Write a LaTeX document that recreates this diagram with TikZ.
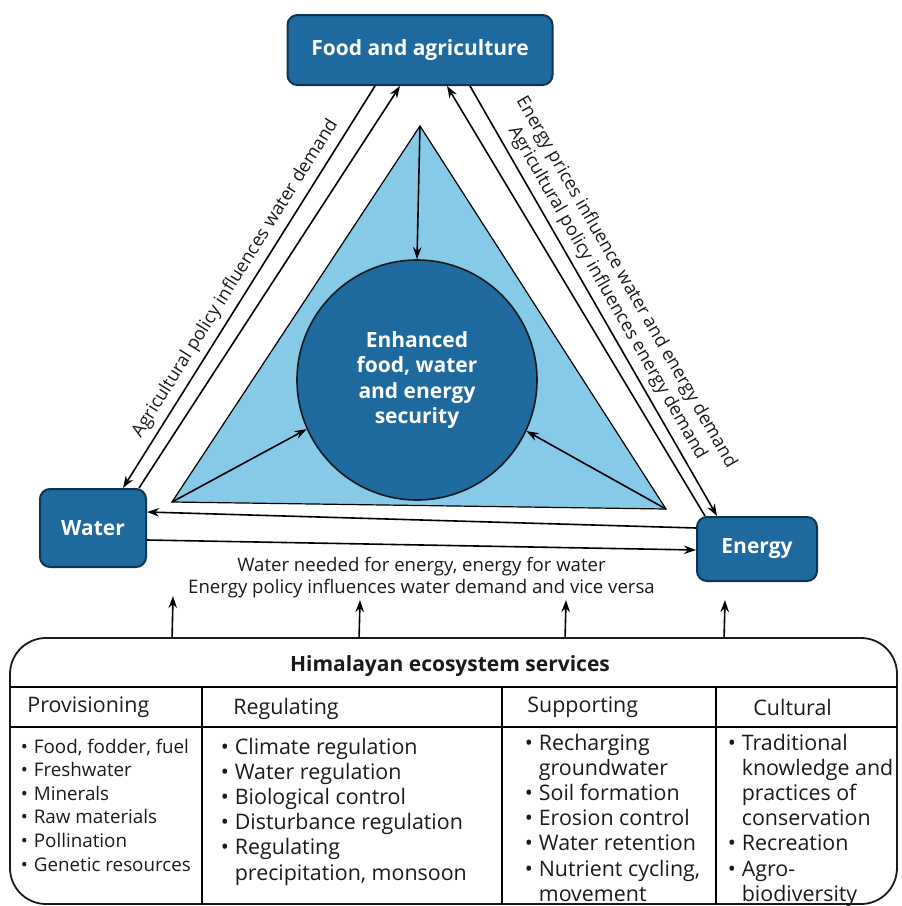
\documentclass[tikz,border=0pt]{standalone}
\usepackage{fontspec}
\setmainfont{Open Sans}
\usetikzlibrary{arrows.meta,calc,positioning}
\definecolor{bluedark}{HTML}{1E6A9E}
\definecolor{bluelight}{HTML}{86CAE8}
\definecolor{blueedge}{HTML}{0D3552}
\definecolor{inkmain}{HTML}{1A1A1A}
\tikzset{every node/.append style={font=\fontsize{10.7}{12.6}\selectfont,text=inkmain}}
\newcommand{\svc}[1]{\textbullet\hspace{3pt}#1}
\newcommand{\svcx}[1]{\hphantom{\textbullet\hspace{3pt}}#1}

\begin{document}
\begin{tikzpicture}[x=0.5pt,y=-0.5pt,>={Stealth[length=6pt,width=4.2pt]},line width=0.8pt,
  hubbox/.style={draw=blueedge,fill=bluedark,rounded corners=5pt,line width=1pt,inner sep=0pt,
    text=white,font=\bfseries\fontsize{10.5}{12}\selectfont},
  linklabel/.style={font=\fontsize{9.1}{10.8}\selectfont,inner sep=1pt},
  svclist/.style={anchor=north west,align=left,inner sep=0pt}]
  \useasboundingbox (0,0) rectangle (901,906);

  % the three sectors
  \node[hubbox,minimum width=132.5pt,minimum height=35pt] (food) at (420,50) {Food and agriculture};
  \node[hubbox,minimum width=53pt,minimum height=39pt] (water) at (93,528) {Water};
  \node[hubbox,minimum width=60pt,minimum height=32pt] (energy) at (757,549) {Energy};

  % nexus triangle
  \coordinate (apex) at (420,126);
  \coordinate (baseL) at (172,502);
  \coordinate (baseR) at (666,509);
  \draw[fill=bluelight,line width=0.6pt] (apex) -- (baseL) -- (baseR) -- cycle;
  \node[circle,draw=inkmain,fill=bluedark,minimum size=120pt,inner sep=0pt,align=center,
    text=white,font=\bfseries\fontsize{10.5}{12.6}\selectfont] (hub) at (417,380)
    {Enhanced\\food, water\\and energy\\security};
  \draw[->] (apex) -- (hub.north);
  \draw[->] (baseL) -- (hub.204);
  \draw[->] (baseR) -- (hub.335);

  % links between sectors
  \draw[->] ($(food.south)+(-45,0)$) -- ($(water.north)+(30,0)$)
    node[midway,sloped,above=2pt,linklabel] {Agricultural policy influences water demand};
  \draw[->] ($(water.north)+(46,0)$) -- ($(food.south)+(-20,0)$);
  \draw[->] ($(food.south)+(50,0)$) -- ($(energy.north)+(-40,0)$)
    node[midway,sloped,above=2pt,linklabel,align=center]
    {Energy prices influence water and energy demand\\Agricultural policy influences energy demand};
  \draw[->] ($(energy.north)+(-52,0)$) -- ($(food.south)+(27,0)$);
  \draw[->] ($(energy.west)+(0,-21)$) -- ($(water.east)+(0,-16)$);
  \draw[->] ($(water.east)+(0,12)$) -- ($(energy.west)+(0,1)$)
    node[midway,below=4.5pt,linklabel,align=center,font=\fontsize{9.3}{11}\selectfont]
    {Water needed for energy, energy for water\\Energy policy influences water demand and vice versa};

  % ecosystem services panel
  \node[draw=inkmain,rounded corners=18pt,minimum width=443.5pt,minimum height=133pt,
    inner sep=0pt,line width=0.9pt] (eco) at (453.5,771) {};
  \node[font=\bfseries\fontsize{10.5}{12}\selectfont] (ecoTitle) at (450,666) {Himalayan ecosystem services};
  \draw (10,687) -- (897,687);
  \draw (10,727) -- (897,727);
  \foreach \xcol in {202,502,716}
    \draw (\xcol,687) -- (\xcol,904);

  \node[anchor=west] (provHead) at (20,707) {Provisioning};
  \node[anchor=west] (regHead) at (226,709) {Regulating};
  \node[anchor=west] (supHead) at (520,707) {Supporting};
  \node[anchor=west] (culHead) at (746,707) {Cultural};

  \node[svclist,font=\fontsize{9.4}{11.8}\selectfont] (provList) at (20,738)
    {\svc{Food, fodder, fuel}\\\svc{Freshwater}\\\svc{Minerals}\\
    \svc{Raw materials}\\\svc{Pollination}\\\svc{Genetic resources}};
  \node[svclist] (regList) at (220,737) {\svc{Climate regulation}\\\svc{Water regulation}\\
    \svc{Biological control}\\\svc{Disturbance regulation}\\\svc{Regulating}\\
    \svcx{precipitation, monsoon}};
  \node[svclist] (supList) at (524,733) {\svc{Recharging}\\\svcx{groundwater}\\\svc{Soil formation}\\
    \svc{Erosion control}\\\svc{Water retention}\\\svc{Nutrient cycling,}\\\svcx{movement}};
  \node[svclist] (culList) at (727,733) {\svc{Traditional}\\\svcx{knowledge and}\\\svcx{practices of}\\
    \svcx{conservation}\\\svc{Recreation}\\\svc{Agro-}\\\svcx{biodiversity}};

  % services feed the nexus
  \coordinate (upProv) at (173,596);
  \coordinate (upReg) at (360,600);
  \coordinate (upSup) at (566,600);
  \coordinate (upCul) at (725,600);
  \draw[->] ($(eco.north west)+(163,0)$) -- (upProv);
  \draw[->] ($(eco.north west)+(350,0)$) -- (upReg);
  \draw[->] ($(eco.north west)+(556,0)$) -- (upSup);
  \draw[->] ($(eco.north west)+(715,0)$) -- (upCul);
\end{tikzpicture}
\end{document}
